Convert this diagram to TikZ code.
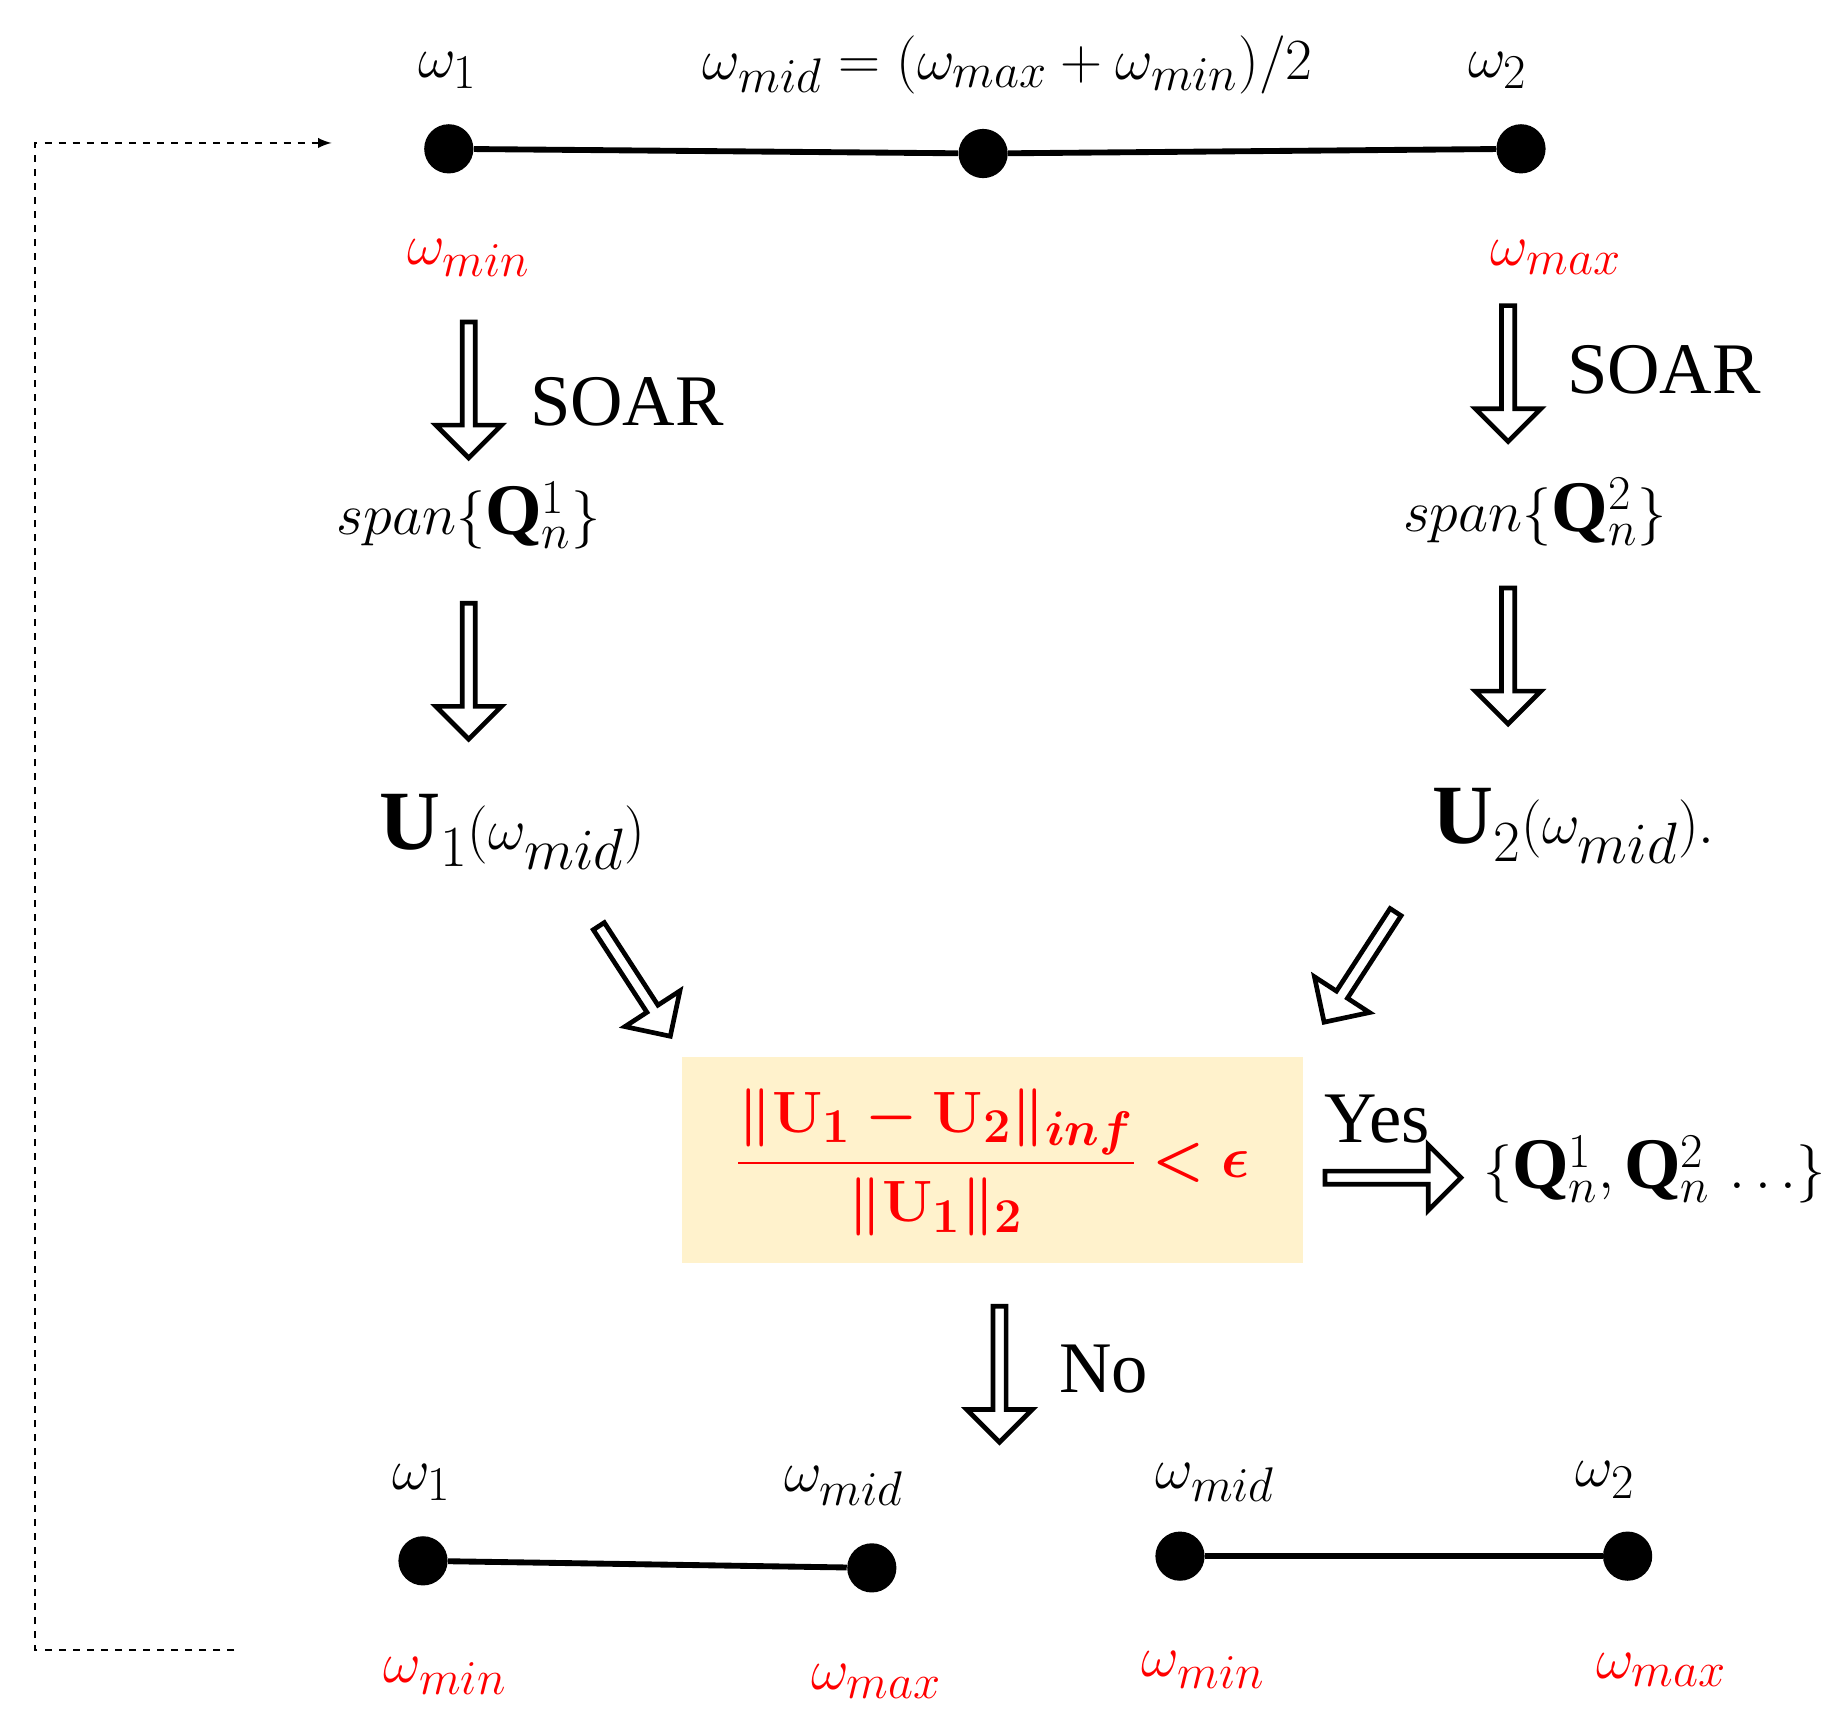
\documentclass[tikz,border=0pt]{standalone}
\usepackage{amsmath,bm}
\usepackage{fontspec}
\setmainfont{Liberation Serif}
\usetikzlibrary{shapes.arrows}
\definecolor{boxy}{RGB}{255,242,204}
\tikzset{
  dot/.style={circle,fill=black,inner sep=0pt,minimum size=21pt},
  seg/.style={line width=2.5pt},
  lbl/.style={font=\fontsize{31}{36}\selectfont,inner sep=0pt},
  big/.style={font=\fontsize{36}{40}\selectfont,inner sep=0pt},
  rlbl/.style={lbl,text=red},
  harrow/.style={single arrow,draw,line width=2pt,fill=white,minimum width=28pt,
     single arrow head extend=4pt,inner sep=0pt,single arrow tip angle=90},
}
\begin{document}
\begin{tikzpicture}[x=0.5pt,y=-0.5pt]
\useasboundingbox (0,0) rectangle (1560,1463);
% top
\node[dot] (t1) at (383,127) {};
\node[dot] (tm) at (839,131) {};
\node[dot] (t2) at (1298,127) {};
\draw[seg] (t1) -- (tm) -- (t2);
\node[lbl] (l1) at (382,60) {$\omega_1$};
\node[lbl] (lm) at (860,55) {$\omega_{mid}=(\omega_{max}+\omega_{min})/2$};
\node[lbl] (l2) at (1278,60) {$\omega_2$};
\node[rlbl] (r1) at (400,220) {$\omega_{min}$};
\node[rlbl] (r2) at (1328,220) {$\omega_{max}$};
% arrows
\node[harrow,minimum height=58pt,rotate=-90] (a1) at (400,330) {};
\node[lbl] (s1) at (535,343) {SOAR};
\node[harrow,minimum height=58pt,rotate=-90] (a2) at (1287,316) {};
\node[lbl] (s2) at (1420,316) {SOAR};
\node[lbl] (sp1) at (400,440) {$span\{\mathbf{Q}_n^1\}$};
\node[lbl] (sp2) at (1310,437) {$span\{\mathbf{Q}_n^2\}$};
\node[harrow,minimum height=58pt,rotate=-90] (a3) at (400,570) {};
\node[harrow,minimum height=58pt,rotate=-90] (a4) at (1287,557) {};
\node[big] (u1) at (437,710) {$\mathbf{U}_1(\omega_{mid})$};
\node[big] (u2) at (1343,705) {$\mathbf{U}_2(\omega_{mid}).$};
\node[harrow,minimum height=56pt,rotate=-57] (a5) at (540,835) {};
\node[harrow,minimum height=56pt,rotate=-123] (a6) at (1162,823) {};
% box
\node[fill=boxy,minimum width=265pt,minimum height=88pt,inner sep=0pt] (bx) at (847,990) {};
\node[rlbl] (cond) at (847,992) {$\boldsymbol{\dfrac{\|\mathbf{U}_1-\mathbf{U}_2\|_{inf}}{\|\mathbf{U}_1\|_2}<\epsilon}$};
\node[lbl] (yes) at (1175,955) {Yes};
\node[harrow,minimum height=58pt] (a7) at (1186,1005) {};
\node[lbl] (res) at (1412,998) {$\{\mathbf{Q}_n^1,\mathbf{Q}_n^2\,\ldots\}$};
\node[harrow,minimum height=58pt,rotate=-90] (a8) at (853,1170) {};
\node[lbl] (no) at (942,1168) {No};
% bottom
\node[dot] (b1) at (361,1332) {};
\node[dot] (b2) at (744,1338) {};
\draw[seg] (b1) -- (b2);
\node[dot] (b3) at (1007,1328) {};
\node[dot] (b4) at (1389,1328) {};
\draw[seg] (b3) -- (b4);
\node[lbl] (bl1) at (360,1265) {$\omega_1$};
\node[lbl] (bl2) at (720,1268) {$\omega_{mid}$};
\node[lbl] (bl3) at (1037,1265) {$\omega_{mid}$};
\node[lbl] (bl4) at (1370,1263) {$\omega_2$};
\node[rlbl] (br1) at (380,1430) {$\omega_{min}$};
\node[rlbl] (br2) at (748,1435) {$\omega_{max}$};
\node[rlbl] (br3) at (1027,1425) {$\omega_{min}$};
\node[rlbl] (br4) at (1418,1425) {$\omega_{max}$};
% feedback
\coordinate (f0) at (200,1408);
\coordinate (f1) at (30,1408);
\coordinate (f2) at (30,122);
\coordinate (f3) at (283,122);
\draw[dashed,line width=1pt,-latex] (f0) -- (f1) -- (f2) -- (f3);
\end{tikzpicture}
\end{document}
